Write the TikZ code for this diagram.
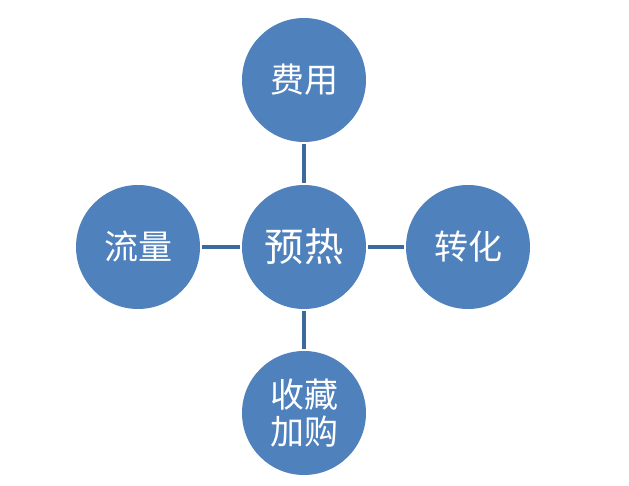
\documentclass[tikz,border=0pt]{standalone}
\usepackage{fontspec}
\newfontfamily\cjk{Noto Sans CJK SC}
\definecolor{ballblue}{HTML}{4F81BD}
\definecolor{linkblue}{HTML}{3D6A9E}
\begin{document}
\begin{tikzpicture}[x=0.75pt,y=0.75pt,line cap=butt,
  ball/.style={circle,fill=ballblue,minimum size=93pt,inner sep=0pt,outer sep=1.5pt,text=white,font=\cjk\fontsize{25.5}{28}\selectfont,align=center},
  link/.style={linkblue,line width=2.3pt}]
 \useasboundingbox (0,0) rectangle (629,486);
 \node[ball,font=\cjk\fontsize{29.5}{32}\selectfont] (center) at (304,239) {预热};
 \node[ball] (cost) at (304,406) {费用};
 \node[ball] (flow) at (138,239) {流量};
 \node[ball] (conv) at (468,239) {转化};
 \node[ball] (fav) at (304,73) {收藏\\加购};
 \draw[link] (center) -- (cost);
 \draw[link] (center) -- (flow);
 \draw[link] (center) -- (conv);
 \draw[link] (center) -- (fav);
\end{tikzpicture}
\end{document}
